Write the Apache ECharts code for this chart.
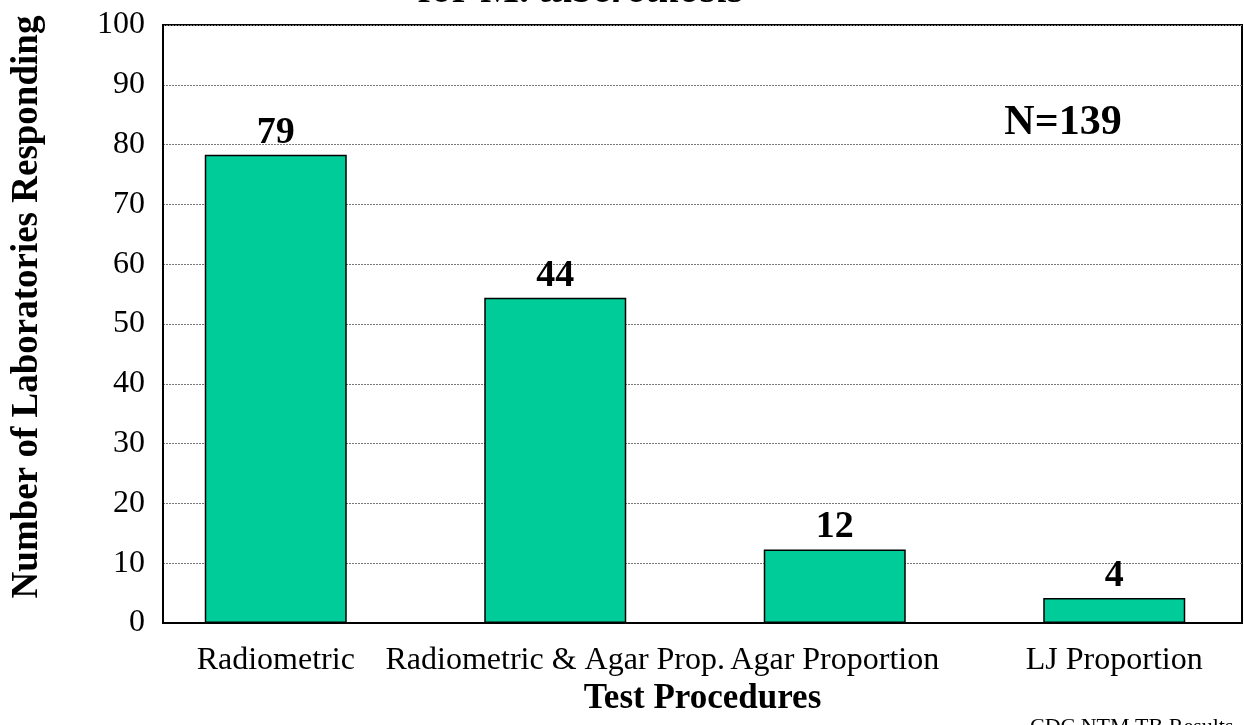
<!DOCTYPE html>
<html>
<head>
<meta charset="utf-8">
<script src="https://cdn.jsdelivr.net/npm/echarts@6/dist/echarts.min.js"></script>
<style>
html,body{margin:0;padding:0;background:#fff;}
#c{width:1244px;height:725px;}
</style>
</head>
<body>
<div id="c"></div>
<script>
// ---- data ----
const categories = ['Radiometric', 'Radiometric & Agar Prop.', 'Agar Proportion', 'LJ Proportion'];
const barHeights = [78.3, 54.4, 12.3, 4.2];      // bar heights as drawn in the picture
const barLabels = [79, 44, 12, 4];               // value labels printed above the bars
const yTicks = [0, 10, 20, 30, 40, 50, 60, 70, 80, 90, 100];
const totalLabel = 'N=139';
const titleA = 'for M. ';
const titleB = 'tuberculosis';
const yName = 'Number of Laboratories Responding';
const xName = 'Test Procedures';
const footer = 'CDC NTM TB Results';

const serif = '"Liberation Serif", "Times New Roman", serif';
const chart = echarts.init(document.getElementById('c'), null, {renderer: 'canvas'});

const yMin = yTicks[0], yMax = yTicks[yTicks.length - 1], yStep = yTicks[1] - yTicks[0];

chart.setOption({
  backgroundColor: '#fff',
  animation: false,
  textStyle: {fontFamily: serif, color: '#000'},
  grid: [
    { // frame + value axis
      left: 163, right: 2, top: 25, bottom: 102,
      outerBoundsMode: 'none', containLabel: false,
      show: true, borderColor: '#000', borderWidth: 2, backgroundColor: 'transparent'
    },
    { // category placement for bars
      left: 136, right: -10, top: 25, bottom: 102,
      outerBoundsMode: 'none', containLabel: false
    }
  ],
  xAxis: [
    {
      gridIndex: 0,
      type: 'category',
      data: categories,
      axisLine: {show: true, lineStyle: {color: '#000', width: 2}},
      axisTick: {show: false},
      axisLabel: {show: false},
      splitLine: {show: false},
      name: xName,
      nameLocation: 'middle',
      nameGap: 58,
      nameTextStyle: {fontFamily: serif, fontSize: 35, fontWeight: 'bold', color: '#000'}
    },
    {
      gridIndex: 1,
      type: 'category',
      data: categories,
      axisLine: {show: false},
      axisTick: {show: false},
      splitLine: {show: false},
      axisLabel: {fontFamily: serif, fontSize: 32, color: '#000', margin: 22, interval: 0}
    }
  ],
  yAxis: [
    {
      gridIndex: 0,
      type: 'value',
      min: yMin, max: yMax, interval: yStep,
      axisLine: {show: true, lineStyle: {color: '#000', width: 2}},
      axisTick: {show: false},
      splitLine: {show: true, lineStyle: {color: '#777', width: 1, type: [2, 1]}},
      axisLabel: {fontFamily: serif, fontSize: 32, color: '#000', margin: 18, padding: [8, 0, 0, 0]}
    },
    {
      gridIndex: 1,
      type: 'value',
      min: yMin, max: yMax, interval: yStep,
      show: false
    }
  ],
  series: [{
    type: 'bar',
    xAxisIndex: 1,
    yAxisIndex: 1,
    data: barHeights,
    barWidth: 142,
    itemStyle: {color: '#00CC99', borderColor: '#000', borderWidth: 1.5},
    label: {
      show: true,
      position: 'top',
      distance: 3,
      fontFamily: serif,
      fontSize: 38,
      fontWeight: 'bold',
      color: '#000',
      formatter: p => String(barLabels[p.dataIndex])
    }
  }],
  graphic: [
    {
      type: 'text',
      x: 581, y: -9,
      style: {
        text: '{a|' + titleA + '}{b|' + titleB + '}',
        align: 'center', verticalAlign: 'middle',
        rich: {
          a: {fontFamily: serif, fontSize: 41, fontWeight: 'bold', fill: '#000'},
          b: {fontFamily: serif, fontSize: 41, fontWeight: 'bold', fontStyle: 'italic', fill: '#000'}
        }
      }
    },
    {
      type: 'text',
      x: 27, y: 307,
      rotation: Math.PI / 2,
      style: {
        text: yName, align: 'center', verticalAlign: 'middle',
        fontFamily: serif, fontSize: 37, fontWeight: 'bold', fill: '#000'
      }
    },
    {
      type: 'text',
      x: 1063, y: 123,
      style: {
        text: totalLabel, align: 'center', verticalAlign: 'middle',
        fontFamily: serif, fontSize: 42, fontWeight: 'bold', fill: '#000'
      }
    },
    {
      type: 'text',
      x: 1030, y: 727,
      style: {
        text: footer, align: 'left', verticalAlign: 'middle',
        fontFamily: serif, fontSize: 22, fill: '#000'
      }
    }
  ]
});
</script>
</body>
</html>
